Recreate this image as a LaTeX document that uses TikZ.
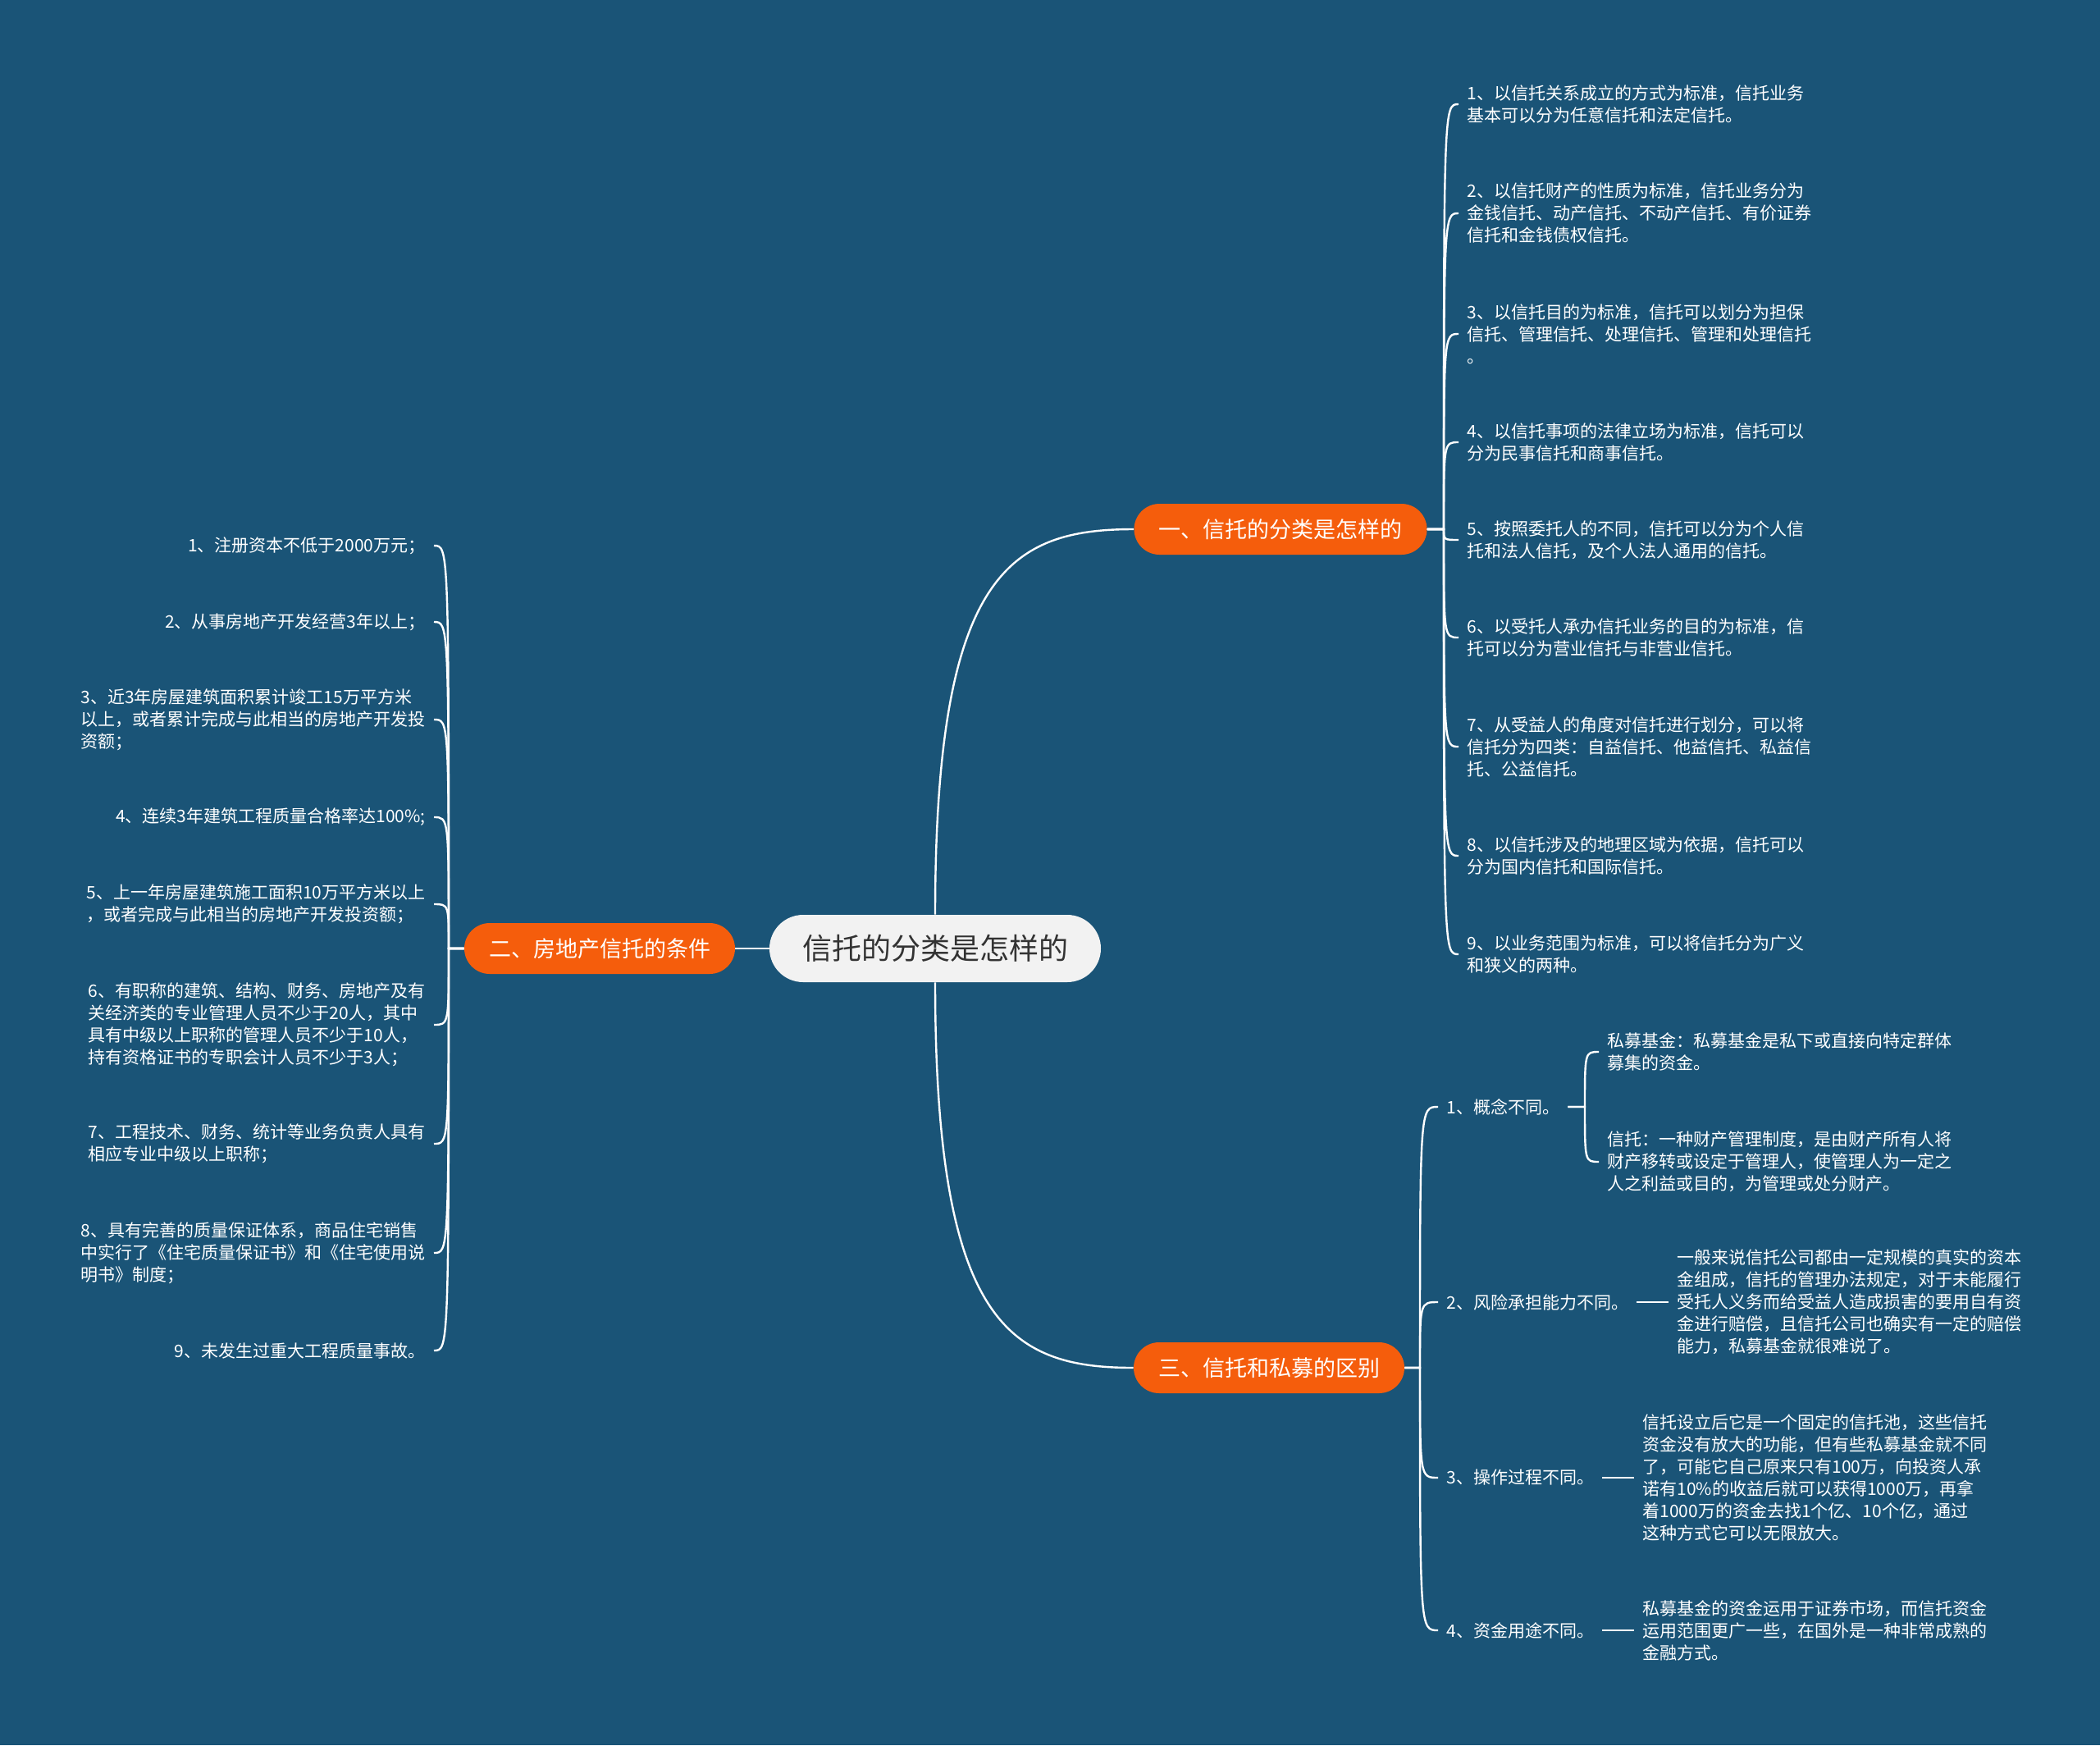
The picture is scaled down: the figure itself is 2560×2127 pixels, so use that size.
\documentclass[tikz,border=0pt]{standalone}
\usepackage{fontspec}
\setmainfont{Noto Sans CJK SC}
\usetikzlibrary{positioning}
\definecolor{bgblue}{RGB}{26,84,119}
\definecolor{brorange}{RGB}{245,93,12}
\definecolor{rootgray}{RGB}{242,242,242}
\definecolor{rootink}{RGB}{51,51,51}

\begin{document}
\begin{tikzpicture}[x=0.5pt,y=-0.5pt,
  link/.style={draw=white,line width=1.2pt},
  rootbox/.style={fill=rootgray,text=rootink,rounded corners=20.5pt,minimum height=41pt,inner xsep=20pt,font=\fontsize{18}{22}\selectfont},
  branch/.style={fill=brorange,text=white,rounded corners=15.5pt,minimum height=31pt,inner xsep=15pt,font=\fontsize{13.5}{16}\selectfont},
  leaf/.style={text=white,align=left,inner xsep=5pt,inner ysep=0pt,font=\fontsize{10.5}{13.5}\selectfont}]
\useasboundingbox (0,0) rectangle (2560,2127);
\fill[bgblue] (0,0) rectangle (2560,2127);

% centre and the three branches
\node[rootbox] (root) at (1140,1156) {信托的分类是怎样的};
\node[branch] (cat) at (1561,645) {一、信托的分类是怎样的};
\node[branch] (cond) at (731,1156) {二、房地产信托的条件};
\node[branch] (diff) at (1547,1667) {三、信托和私募的区别};
\draw[link] (root.north) .. controls (1140,700) and (1230,645) .. (cat.west);
\draw[link] (root.south) .. controls (1140,1612) and (1230,1667) .. (diff.west);
\draw[link] (root.west) -- (cond.east);

\coordinate (catT) at (1760,645);
\coordinate (condT) at (547,1156);
\coordinate (diffT) at (1731,1667);

% kinds of trust
\foreach \y/\txt [count=\i] in {
  127/{1、以信托关系成立的方式为标准，信托业务\\基本可以分为任意信托和法定信托。},
  260/{2、以信托财产的性质为标准，信托业务分为\\金钱信托、动产信托、不动产信托、有价证券\\信托和金钱债权信托。},
  407/{3、以信托目的为标准，信托可以划分为担保\\信托、管理信托、处理信托、管理和处理信托\\。},
  539/{4、以信托事项的法律立场为标准，信托可以\\分为民事信托和商事信托。},
  658/{5、按照委托人的不同，信托可以分为个人信\\托和法人信托，及个人法人通用的信托。},
  777/{6、以受托人承办信托业务的目的为标准，信\\托可以分为营业信托与非营业信托。},
  910/{7、从受益人的角度对信托进行划分，可以将\\信托分为四类：自益信托、他益信托、私益信\\托、公益信托。},
  1043/{8、以信托涉及的地理区域为依据，信托可以\\分为国内信托和国际信托。},
  1163/{9、以业务范围为标准，可以将信托分为广义\\和狭义的两种。}} {
  \node[leaf,anchor=west] (cat\i) at (1778,\y) {\txt};
  \draw[link] (cat.east) -- (catT) .. controls (catT |- cat\i.west) .. (cat\i.west);
}

% conditions
\foreach \y/\txt [count=\i] in {
  665/{1、注册资本不低于2000万元；},
  758/{2、从事房地产开发经营3年以上；},
  877/{3、近3年房屋建筑面积累计竣工15万平方米\\以上，或者累计完成与此相当的房地产开发投\\资额；},
  996/{4、连续3年建筑工程质量合格率达100\%;},
  1102/{5、上一年房屋建筑施工面积10万平方米以上\\，或者完成与此相当的房地产开发投资额；},
  1249/{6、有职称的建筑、结构、财务、房地产及有\\关经济类的专业管理人员不少于20人，其中\\具有中级以上职称的管理人员不少于10人，\\持有资格证书的专职会计人员不少于3人；},
  1394/{7、工程技术、财务、统计等业务负责人具有\\相应专业中级以上职称；},
  1527/{8、具有完善的质量保证体系，商品住宅销售\\中实行了《住宅质量保证书》和《住宅使用说\\明书》制度；},
  1646/{9、未发生过重大工程质量事故。}} {
  \node[leaf,anchor=east] (cond\i) at (529,\y) {\txt};
  \draw[link] (cond.west) -- (condT) .. controls (condT |- cond\i.east) .. (cond\i.east);
}

% differences
\foreach \y/\txt [count=\i] in {
  1349/{1、概念不同。},
  1587/{2、风险承担能力不同。},
  1801/{3、操作过程不同。},
  1987/{4、资金用途不同。}} {
  \node[leaf,anchor=west] (diff\i) at (1753,\y) {\txt};
  \draw[link] (diff.east) -- (diffT) .. controls (diffT |- diff\i.west) .. (diff\i.west);
}

\node[leaf,anchor=west] (diff1a) at (1949,1282) {私募基金：私募基金是私下或直接向特定群体\\募集的资金。};
\node[leaf,anchor=west] (diff1b) at (1949,1416) {信托：一种财产管理制度，是由财产所有人将\\财产移转或设定于管理人，使管理人为一定之\\人之利益或目的，为管理或处分财产。};
\coordinate (sub1T) at (1932,1349);
\draw[link] (diff1.east) -- (sub1T) .. controls (sub1T |- diff1a.west) .. (diff1a.west);
\draw[link] (diff1.east) -- (sub1T) .. controls (sub1T |- diff1b.west) .. (diff1b.west);

\node[leaf,anchor=west] (diff2a) at (2034,1587) {一般来说信托公司都由一定规模的真实的资本\\金组成，信托的管理办法规定，对于未能履行\\受托人义务而给受益人造成损害的要用自有资\\金进行赔偿，且信托公司也确实有一定的赔偿\\能力，私募基金就很难说了。};
\node[leaf,anchor=west] (diff3a) at (1992,1801) {信托设立后它是一个固定的信托池，这些信托\\资金没有放大的功能，但有些私募基金就不同\\了，可能它自己原来只有100万，向投资人承\\诺有10\%的收益后就可以获得1000万，再拿\\着1000万的资金去找1个亿、10个亿，通过\\这种方式它可以无限放大。};
\node[leaf,anchor=west] (diff4a) at (1992,1987) {私募基金的资金运用于证券市场，而信托资金\\运用范围更广一些，在国外是一种非常成熟的\\金融方式。};
\draw[link] (diff2.east) -- (diff2a.west);
\draw[link] (diff3.east) -- (diff3a.west);
\draw[link] (diff4.east) -- (diff4a.west);
\end{tikzpicture}
\end{document}
